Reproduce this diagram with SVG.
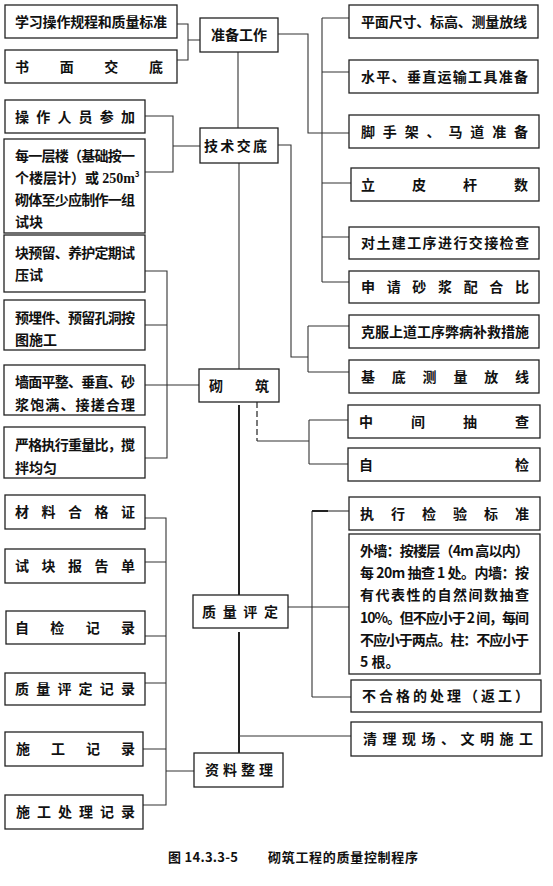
<svg xmlns="http://www.w3.org/2000/svg" width="553" height="886" viewBox="0 0 553 886">
<style>
rect{fill:#fff;stroke:#222;stroke-width:1.3}
text{font-family:"Noto Sans CJK SC","Noto Sans CJK JP",sans-serif;font-size:14px;font-weight:bold;fill:#111}
.c{fill:none;stroke:#333;stroke-width:1.1}
.t{fill:none;stroke:#222;stroke-width:2}
.d{fill:none;stroke:#333;stroke-width:1.3;stroke-dasharray:6 3}
.cap{font-size:13px;font-weight:bold}
.sup{font-size:8px}
</style>
<rect x="0" y="0" width="553" height="886" style="fill:#fff;stroke:none"/>
<g id="connectors">
<path class="c" d="M177,24H188V60H177M188,40H200"/>
<path class="c" d="M238,52V128M239,163V369"/>
<path class="c" d="M278,34H308V133H349"/>
<path class="c" d="M322,18V282M322,18H349M322,72H349M322,183H351M322,237H349M322,282H349"/>
<path class="c" d="M145,116H173V172H145M173,146H200"/>
<path class="c" d="M278,145H291V357H308M308,326V372M308,326H349M308,372H349"/>
<path class="c" d="M145,271H167V458H145M145,325H167M145,385H199"/>
<path class="d" d="M257,402V441"/>
<path class="c" d="M257,441H309M309,420V464M309,420H348M309,464H348"/>
<path class="t" d="M239,405V595M239,632V753"/>
<path class="c" d="M239,736H351"/>
<path class="c" d="M288,607H349M312,511V697M312,697H351"/>
<path class="t" d="M312,511H328"/>
<path class="c" d="M328,511H349"/>
<path class="c" d="M145,518H166V805H143M145,562H166M145,636H166M145,683H166M143,749H166M166,771H194"/>
</g>
<g id="n-study"><rect x="5" y="5" width="172" height="33"/><text x="15" y="27" textLength="152" lengthAdjust="spacing">学习操作规程和质量标准</text></g>
<g id="n-written"><rect x="5" y="50" width="172" height="33"/><text x="15" y="71.5" textLength="148" lengthAdjust="spacing">书面交底</text></g>
<g id="n-staff"><rect x="5" y="100" width="140" height="33"/><text x="15" y="121.5" textLength="120" lengthAdjust="spacing">操作人员参加</text></g>
<g id="n-sample"><rect x="4" y="139" width="141" height="94"/>
<text x="15" y="161" textLength="120" lengthAdjust="spacing">每一层楼（基础按一</text>
<text x="15" y="183">个楼层计）或 <tspan font-family="Liberation Serif">250m</tspan><tspan class="sup" dy="-6">3</tspan></text>
<text x="15" y="205" textLength="120" lengthAdjust="spacing">砌体至少应制作一组</text>
<text x="15" y="227">试块</text></g>
<g id="n-cure"><rect x="4" y="235" width="141" height="57"/>
<text x="15" y="258" textLength="120" lengthAdjust="spacing">块预留、养护定期试</text>
<text x="15" y="280">压试</text></g>
<g id="n-embed"><rect x="4" y="300" width="141" height="50"/>
<text x="15" y="323" textLength="120" lengthAdjust="spacing">预埋件、预留孔洞按</text>
<text x="15" y="345">图施工</text></g>
<g id="n-wall"><rect x="4" y="365" width="141" height="50"/>
<text x="15" y="387" textLength="120" lengthAdjust="spacing">墙面平整、垂直、砂</text>
<text x="15" y="410" textLength="120" lengthAdjust="spacing">浆饱满、接搓合理</text></g>
<g id="n-mix"><rect x="4" y="427" width="141" height="51"/>
<text x="15" y="450" textLength="120" lengthAdjust="spacing">严格执行重量比，搅</text>
<text x="15" y="473">拌均匀</text></g>
<g id="n-cert"><rect x="5" y="495" width="140" height="34"/><text x="15" y="517" textLength="120" lengthAdjust="spacing">材料合格证</text></g>
<g id="n-report"><rect x="5" y="549" width="140" height="34"/><text x="15" y="571" textLength="120" lengthAdjust="spacing">试块报告单</text></g>
<g id="n-selfrec"><rect x="6" y="611" width="139" height="33"/><text x="15" y="632.5" textLength="120" lengthAdjust="spacing">自检记录</text></g>
<g id="n-qrec"><rect x="5" y="673" width="140" height="32"/><text x="15" y="694" textLength="120" lengthAdjust="spacing">质量评定记录</text></g>
<g id="n-constr"><rect x="5" y="732" width="138" height="34"/><text x="16" y="754" textLength="119" lengthAdjust="spacing">施工记录</text></g>
<g id="n-handle"><rect x="5" y="795" width="138" height="34"/><text x="16" y="817" textLength="119" lengthAdjust="spacing">施工处理记录</text></g>
<g id="n-prep"><rect x="200" y="18" width="78" height="34"/><text x="211" y="40" textLength="56" lengthAdjust="spacing">准备工作</text></g>
<g id="n-tech"><rect x="200" y="128" width="78" height="35"/><text x="204" y="150.5" textLength="63" lengthAdjust="spacing">技术交底</text></g>
<g id="n-mason"><rect x="199" y="369" width="80" height="33"/><text x="209" y="390.5" textLength="60" lengthAdjust="spacing">砌筑</text></g>
<g id="n-quality"><rect x="193" y="595" width="95" height="33"/><text x="202" y="616.5" textLength="76" lengthAdjust="spacing">质量评定</text></g>
<g id="n-data"><rect x="194" y="753" width="89" height="34"/><text x="205" y="775" textLength="68" lengthAdjust="spacing">资料整理</text></g>
<g id="n-r1"><rect x="349" y="5" width="189" height="33"/><text x="361" y="26.5" textLength="166" lengthAdjust="spacing">平面尺寸、标高、测量放线</text></g>
<g id="n-r2"><rect x="349" y="60" width="189" height="33"/><text x="361" y="81.5" textLength="167" lengthAdjust="spacing">水平、垂直运输工具准备</text></g>
<g id="n-r3"><rect x="349" y="115" width="190" height="33"/><text x="361" y="136.5" textLength="167" lengthAdjust="spacing">脚手架、马道准备</text></g>
<g id="n-r4"><rect x="351" y="168" width="188" height="33"/><text x="361" y="189.5" textLength="167" lengthAdjust="spacing">立皮杆数</text></g>
<g id="n-r5"><rect x="349" y="227" width="190" height="32"/><text x="361" y="248" textLength="168" lengthAdjust="spacing">对土建工序进行交接检查</text></g>
<g id="n-r6"><rect x="349" y="271" width="190" height="32"/><text x="361" y="292" textLength="168" lengthAdjust="spacing">申请砂浆配合比</text></g>
<g id="n-r7"><rect x="349" y="315" width="190" height="33"/><text x="361" y="336.5" textLength="168" lengthAdjust="spacing">克服上道工序弊病补救措施</text></g>
<g id="n-r8"><rect x="349" y="360" width="190" height="33"/><text x="361" y="381.5" textLength="168" lengthAdjust="spacing">基底测量放线</text></g>
<g id="n-r9"><rect x="348" y="405" width="192" height="33"/><text x="359" y="426.5" textLength="170" lengthAdjust="spacing">中间抽查</text></g>
<g id="n-r10"><rect x="348" y="448" width="192" height="33"/><text x="359" y="469.5" textLength="170" lengthAdjust="spacing">自检</text></g>
<g id="n-r11"><rect x="349" y="497" width="191" height="33"/><text x="360" y="518.5" textLength="169" lengthAdjust="spacing">执行检验标准</text></g>
<g id="n-r12"><rect x="349" y="534" width="191" height="140"/>
<text x="360" y="556" textLength="169" lengthAdjust="spacing">外墙：按楼层（4m 高以内）</text>
<text x="360" y="578" textLength="169" lengthAdjust="spacing">每 20m 抽查 1 处。内墙：按</text>
<text x="360" y="600" textLength="169" lengthAdjust="spacing">有代表性的自然间数抽查</text>
<text x="360" y="623" textLength="169" lengthAdjust="spacing">10%。但不应小于 2 间，每间</text>
<text x="360" y="645" textLength="169" lengthAdjust="spacing">不应小于两点。柱：不应小于</text>
<text x="360" y="667">5 根。</text></g>
<g id="n-r13"><rect x="351" y="680" width="190" height="32"/><text x="362" y="701" textLength="167" lengthAdjust="spacing">不合格的处理（返工）</text></g>
<g id="n-r14"><rect x="351" y="722" width="191" height="34"/><text x="363" y="744" textLength="170" lengthAdjust="spacing">清理现场、文明施工</text></g>
<g id="caption"><text class="cap" x="168" y="862" textLength="70" lengthAdjust="spacing">图 14.3.3-5</text><text class="cap" x="268" y="862" textLength="150" lengthAdjust="spacing">砌筑工程的质量控制程序</text></g>
</svg>
